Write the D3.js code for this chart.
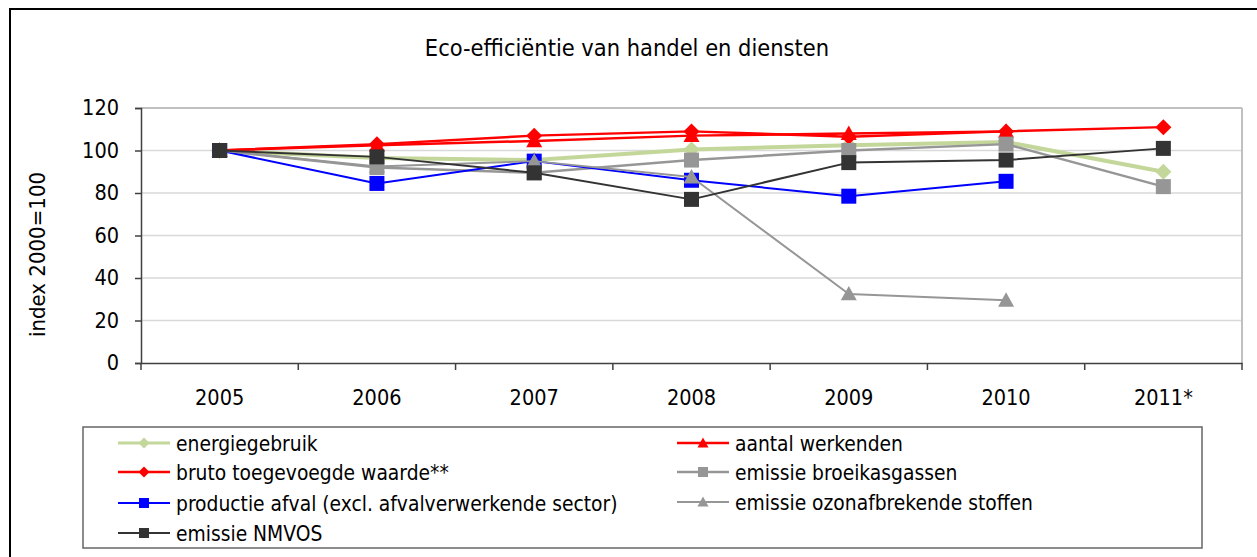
<!DOCTYPE html>
<html><head><meta charset="utf-8">
<script src="https://cdn.jsdelivr.net/npm/d3@7"></script>
<style>
html,body{margin:0;padding:0;background:#fff;}
svg{display:block;}
text{font-family:"DejaVu Sans Condensed","DejaVu Sans",sans-serif;fill:#000;}
</style></head>
<body>
<script>
const years = ["2005","2006","2007","2008","2009","2010","2011*"];
const yTicks = [0,20,40,60,80,100,120];
const title = "Eco-efficiëntie van handel en diensten";
const yTitle = "index 2000=100";

const energiegebruik = [100, 96.5, 95.5, 100.5, 102.5, 104, 90];
const aantalWerkenden = [100, 102.5, 104.5, 107, 108, 109, null];
const brutoToegevoegd = [100, 103, 107, 109, 106.5, 109, 111];
const broeikasgassen = [100, 92, 89.5, 95.5, 100, 103, 83];
const productieAfval = [100, 84.5, 95, 86, 78.5, 85.5, null];
const ozonafbrekend = [100, 92.5, 95, 87.5, 32.5, 29.5, null];
const nmvos = [100, 97, 89.5, 77, 94.3, 95.5, 101];

const series = [
  {name:"energiegebruik", values:energiegebruik, color:"#c4d79b", width:4, marker:"diamond"},
  {name:"aantal werkenden", values:aantalWerkenden, color:"#ff0000", width:2.5, marker:"triangle"},
  {name:"bruto toegevoegde waarde**", values:brutoToegevoegd, color:"#ff0000", width:2.5, marker:"diamond"},
  {name:"emissie broeikasgassen", values:broeikasgassen, color:"#969696", width:2.5, marker:"square"},
  {name:"productie afval (excl. afvalverwerkende sector)", values:productieAfval, color:"#0000ff", width:2, marker:"square"},
  {name:"emissie ozonafbrekende stoffen", values:ozonafbrekend, color:"#969696", width:2, marker:"triangle"},
  {name:"emissie NMVOS", values:nmvos, color:"#333333", width:2, marker:"square"}
];

const W = 1257, H = 557;
const svg = d3.select("body").append("svg").attr("width",W).attr("height",H);

// outer border
svg.append("rect").attr("x",10).attr("y",9).attr("width",W+10).attr("height",H+10)
  .attr("fill","none").attr("stroke","#000").attr("stroke-width",2);

const L = 141, R = 1242, T = 108, B = 363;
const x = d3.scaleBand().domain(years).range([L,R]).padding(0);
const y = d3.scaleLinear().domain([0,120]).range([B,T]);

// gridlines
svg.append("g").selectAll("line").data(yTicks.filter(d=>d>0 && d<120)).join("line")
  .attr("x1",L).attr("x2",R).attr("y1",d=>y(d)).attr("y2",d=>y(d))
  .attr("stroke","#d9d9d9").attr("stroke-width",1.5);
// top & right plot border
svg.append("line").attr("x1",L).attr("x2",R).attr("y1",y(120)).attr("y2",y(120))
  .attr("stroke","#c0c0c0").attr("stroke-width",2);
svg.append("line").attr("x1",R).attr("x2",R).attr("y1",T).attr("y2",B)
  .attr("stroke","#c0c0c0").attr("stroke-width",2);

// y axis
const yAxis = d3.axisLeft(y).tickValues(yTicks).tickSize(6).tickPadding(16);
const gy = svg.append("g").attr("transform",`translate(${L},0)`).call(yAxis);
gy.select(".domain").attr("stroke","#404040").attr("stroke-width",1.5);
gy.selectAll(".tick line").attr("stroke","#404040").attr("stroke-width",1.5);
gy.selectAll(".tick text").style("font-size","21.5px").attr("fill","#000");

// x axis
const xAxis = d3.axisBottom(x).tickSize(0).tickPadding(27);
const gx = svg.append("g").attr("transform",`translate(0,${B})`).call(xAxis);
gx.select(".domain").attr("stroke","#404040").attr("stroke-width",1.5);
gx.selectAll(".tick text").style("font-size","21.5px").attr("fill","#000");
// category separator ticks
svg.append("g").selectAll("line").data(years.concat(["end"])).join("line")
  .attr("x1",(d,i)=>L + i*x.bandwidth()).attr("x2",(d,i)=>L + i*x.bandwidth())
  .attr("y1",B).attr("y2",B+7).attr("stroke","#404040").attr("stroke-width",1.5);

// title
svg.append("text").attr("x",627).attr("y",56).attr("text-anchor","middle")
  .style("font-size","23.4px").text(title);
// y title
svg.append("text").attr("transform",`translate(45,${(T+B)/2+19}) rotate(-90)`)
  .attr("text-anchor","middle").style("font-size","22px").text(yTitle);

const cx = d => x(d) + x.bandwidth()/2;

function markerPath(type, s){
  if(type==="square") return d3.symbol(d3.symbolSquare, s*s)();
  if(type==="diamond"){ const h=s/2; return `M0,${-h}L${h},0L0,${h}L${-h},0Z`; }
  if(type==="triangle"){ const h=s/2; return `M0,${-h}L${h},${h*0.8}L${-h},${h*0.8}Z`; }
}

const line = d3.line().defined(d=>d.v!=null).x(d=>cx(d.year)).y(d=>y(d.v));
series.forEach(s=>{
  const pts = years.map((yr,i)=>({year:yr, v:s.values[i]}));
  const g = svg.append("g");
  g.append("path").datum(pts).attr("d",line).attr("fill","none")
    .attr("stroke",s.color).attr("stroke-width",s.width).attr("stroke-linejoin","round");
  g.selectAll("path.m").data(pts.filter(d=>d.v!=null)).join("path").attr("class","m")
    .attr("transform",d=>`translate(${cx(d.year)},${y(d.v)})`)
    .attr("d",markerPath(s.marker, s.marker==="square"?15:16)).attr("fill",s.color);
});

// legend
svg.append("rect").attr("x",83).attr("y",427).attr("width",1119).attr("height",121)
  .attr("fill","#fff").attr("stroke","#666").attr("stroke-width",1.5);
const legendPos = [
  [118,443],[677,443],
  [118,472],[677,472],
  [118,503],[677,502],
  [118,533]
];
series.forEach((s,i)=>{
  const [lx,ly] = legendPos[i];
  const g = svg.append("g").attr("transform",`translate(${lx},${ly})`);
  g.append("line").attr("x1",0).attr("x2",52).attr("y1",0).attr("y2",0)
    .attr("stroke",s.color).attr("stroke-width",Math.min(s.width,3));
  g.append("path").attr("transform","translate(26,0)").attr("d",markerPath(s.marker, s.marker==="square"?10:11)).attr("fill",s.color);
  g.append("text").attr("x",58).attr("y",7.5).style("font-size","20.8px").text(s.name);
});
</script>
</body></html>
